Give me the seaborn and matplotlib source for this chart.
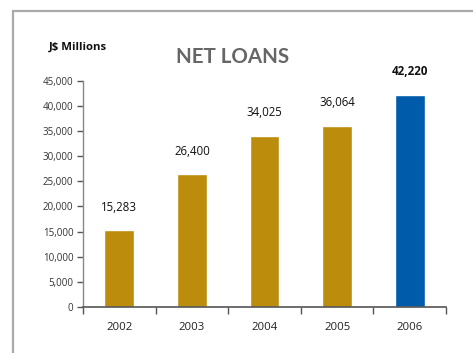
import matplotlib
matplotlib.use("Agg")
import matplotlib.pyplot as plt
from matplotlib.patches import Rectangle
import seaborn as sns
import pandas as pd

years = ["2002", "2003", "2004", "2005", "2006"]
net_loans = [15283, 26400, 34025, 36064, 42220]
bar_colors = ["#BC8C0C", "#BC8C0C", "#BC8C0C", "#BC8C0C", "#005BAA"]
y_ticks = [0, 5000, 10000, 15000, 20000, 25000, 30000, 35000, 40000, 45000]

sns.set_theme(style="white")
plt.rcParams["font.family"] = ["Open Sans", "DejaVu Sans"]

df = pd.DataFrame({"year": years, "value": net_loans})

fig = plt.figure(figsize=(4.73, 3.53), dpi=100)
ax = fig.add_axes([0.1755, 0.1303, 0.7675, 0.6411])

sns.barplot(data=df, x="year", y="value", hue="year", palette=bar_colors,
            legend=False, width=0.41, saturation=1, ax=ax)

ax.set_ylim(0, 45000)
ax.set_xlim(-0.5, 4.5)
ax.set_yticks(y_ticks)
ax.set_yticklabels([f"{v:,}" for v in y_ticks], fontsize=7, color="#333333")

# Category separators as major ticks, year labels on minor ticks
ax.set_xticks([i - 0.5 for i in range(len(years) + 1)])
ax.set_xticklabels([""] * (len(years) + 1))
ax.set_xticks(range(len(years)), minor=True)
ax.set_xticklabels(years, minor=True, fontsize=8.2, color="#222222")
ax.tick_params(axis="x", which="major", direction="out", length=5, width=1, color="#555555", bottom=True)
ax.tick_params(axis="x", which="minor", length=0, pad=11)
ax.tick_params(axis="y", direction="out", length=4, width=1, color="#555555", left=True, pad=3)

ax.set_xlabel("")
ax.set_ylabel("")
for side in ["top", "right"]:
    ax.spines[side].set_visible(False)
ax.spines["left"].set_color("#888888")
ax.spines["bottom"].set_color("#555555")
ax.spines["left"].set_linewidth(1)
ax.spines["bottom"].set_linewidth(1.2)

# Value labels above each bar
for i, v in enumerate(net_loans):
    last = i == len(net_loans) - 1
    ax.annotate(f"{v:,}", xy=(i, v), xytext=(0, 16.5), textcoords="offset points",
                ha="center", va="center", fontsize=8.3 if last else 8.3,
                fontweight="bold" if last else "normal", color="#111111")

fig.text(0.4925, 0.838, "NET LOANS", ha="center", va="center",
         fontsize=14.8, fontweight="bold", color="#666666", family=["Lato", "DejaVu Sans"])
fig.text(0.165, 0.867, "J$ Millions", ha="center", va="center",
         fontsize=8.2, fontweight="bold", color="#111111")

# Panel frame
fig.patches.append(Rectangle((13 / 473, -0.1), 1.2, 1 - 11 / 353 + 0.1,
                             transform=fig.transFigure, fill=False,
                             edgecolor="#aaaaaa", linewidth=1.6))

fig.savefig("out.png", dpi=100)
